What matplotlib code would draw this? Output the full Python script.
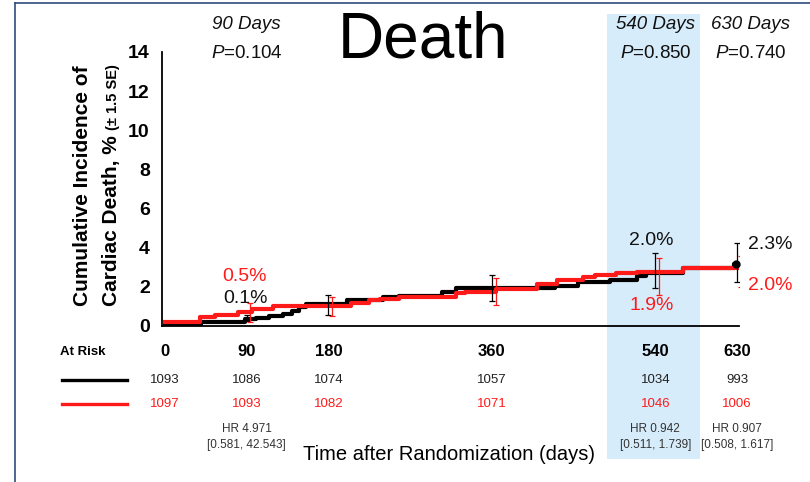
import matplotlib
matplotlib.use('Agg')
import matplotlib.pyplot as plt
from matplotlib.patches import Rectangle
from matplotlib.lines import Line2D
import matplotlib.transforms as mtransforms

plt.rcParams['font.family'] = ['Liberation Sans', 'DejaVu Sans']
plt.rcParams['mathtext.fontset'] = 'custom'
plt.rcParams['mathtext.rm'] = 'Liberation Sans'
plt.rcParams['mathtext.it'] = 'Liberation Sans:italic'

RED = '#ff1a1a'

# step curves (days, cumulative incidence %)
black_days = [0, 40, 88, 100, 115, 130, 140, 148, 155, 200, 240, 258, 305, 320, 430, 455, 490, 520, 530, 570, 627, 630]
black_inc = [0.1, 0.2, 0.38, 0.42, 0.5, 0.63, 0.78, 0.95, 1.1, 1.33, 1.47, 1.55, 1.75, 1.94, 2.05, 2.25, 2.35, 2.55, 2.72, 2.95, 3.15, 3.15]
red_days = [0, 38, 55, 80, 96, 119, 205, 225, 237, 258, 320, 330, 365, 410, 432, 460, 473, 497, 520, 570, 630]
red_inc = [0.22, 0.46, 0.56, 0.73, 0.87, 1.04, 1.16, 1.33, 1.38, 1.48, 1.69, 1.76, 1.9, 2.13, 2.35, 2.49, 2.6, 2.69, 2.77, 2.98, 2.98]

# error bars at landmark days
err_days = [90, 180, 360, 540, 630]
black_mid = [0.4, 1.07, 1.94, 2.82, 3.24]
black_se = [0.17, 0.5, 0.68, 0.9, 1.0]
red_mid = [0.7, 1.0, 1.76, 2.52, 2.8]
red_se = [0.5, 0.5, 0.68, 0.94, 0.8]

# at-risk table
risk_days = [0, 90, 180, 360, 540, 630]
risk_black = ['1093', '1086', '1074', '1057', '1034', '993']
risk_red = ['1097', '1093', '1082', '1071', '1046', '1006']
hr_days = [90, 540, 630]
hr_text = ['HR 4.971\n[0.581, 42.543]', 'HR 0.942\n[0.511, 1.739]', 'HR 0.907\n[0.508, 1.617]']

# landmark labels
land_days = [90, 540, 645]
land_title = ['90 Days', '540 Days', '630 Days']
land_p = ['0.104', '0.850', '0.740']

W, H = 810, 482
fig = plt.figure(figsize=(8.1, 4.82), dpi=100)

def fx(px):
    return px / W

def fy(py):
    return 1 - py / H

# figure border (left + top)
fig.add_artist(Line2D([fx(15), fx(15)], [fy(3), 0], color='#2e4d7e', lw=1.2))
fig.add_artist(Line2D([fx(15), 1], [fy(3), fy(3)], color='#2e4d7e', lw=1.2))

# highlighted 540-day column, behind everything
fig.patches.append(Rectangle((fx(607), fy(459)), fx(700) - fx(607), fy(14) - fy(459),
                             transform=fig.transFigure, facecolor='#d6ecfa', edgecolor='none', zorder=-5))

ax = fig.add_axes([162.3 / W, 1 - 326 / H, 576.6 / W, 274 / H])
ax.patch.set_alpha(0)
ax.set_xlim(-3, 632)
ax.set_ylim(0, 14)
for s in ['top', 'right']:
    ax.spines[s].set_visible(False)
for s in ['left', 'bottom']:
    ax.spines[s].set_linewidth(1.3)
ax.set_yticks(range(0, 15, 2))
ax.set_xticks([])
ax.tick_params(axis='y', length=0, pad=9)
for t in ax.get_yticklabels():
    t.set_fontsize(14)
    t.set_fontweight('bold')

ax.step(black_days, black_inc, where='post', color='black', lw=3, zorder=3)
ax.step(red_days, red_inc, where='post', color=RED, lw=3, zorder=4)
ax.errorbar(err_days, black_mid, yerr=black_se, fmt='none', ecolor='black',
            elinewidth=0.9, capsize=2.5, capthick=0.9, zorder=5)
ax.errorbar([d + 4 for d in err_days], red_mid, yerr=red_se, fmt='none', ecolor=RED,
            elinewidth=0.9, capsize=2.5, capthick=0.9, zorder=5)
ax.plot([629], [3.15], 'o', color='black', ms=5, zorder=6, clip_on=False)

# percentage labels
ax.text(88, 2.52, '0.5%', color=RED, fontsize=14, ha='center', va='center')
ax.text(89, 1.43, '0.1%', color='#111111', fontsize=14, ha='center', va='center')
ax.text(536, 4.37, '2.0%', color='#111111', fontsize=14, ha='center', va='center')
ax.text(536, 1.05, '1.9%', color=RED, fontsize=14, ha='center', va='center')
ax.text(667, 4.14, '2.3%', color='#111111', fontsize=14, ha='center', va='center')
ax.text(667, 2.07, '2.0%', color=RED, fontsize=14, ha='center', va='center')

# landmark titles
for d, t, p in zip(land_days, land_title, land_p):
    ax.text(d, 15.38, t, style='italic', fontsize=13.5, ha='center', va='center', color='#111111')
    ax.text(d, 13.9, r'$\mathit{P}$=' + p, fontsize=13.5, ha='center', va='center', color='#111111')

fig.text(fx(423), fy(40), 'Death', fontsize=46, ha='center', va='center')

# y label
fig.text(fx(88), fy(306), 'Cumulative Incidence of', rotation=90, rotation_mode='anchor',
         ha='left', va='baseline', fontsize=15, fontweight='bold')
t2 = fig.text(fx(117), fy(306), 'Cardiac Death, %', rotation=90, rotation_mode='anchor',
              ha='left', va='baseline', fontsize=15, fontweight='bold')
fig.canvas.draw()
bb = t2.get_window_extent()
fig.text(fx(117), (bb.y1 + 5) / H, '(± 1.5 SE)', rotation=90, rotation_mode='anchor',
         ha='left', va='baseline', fontsize=10.5, fontweight='bold')

# at-risk table
tr = mtransforms.blended_transform_factory(ax.transData, fig.transFigure)
fig.text(fx(83), fy(352), 'At Risk', fontsize=9.5, fontweight='bold', ha='center', va='center')
fig.add_artist(Line2D([fx(62), fx(127)], [fy(380), fy(380)], color='black', lw=2.4))
fig.add_artist(Line2D([fx(62), fx(127)], [fy(404), fy(404)], color=RED, lw=2.4))
for d, b, r in zip(risk_days, risk_black, risk_red):
    ax.text(d, fy(352), str(d), transform=tr, fontsize=12, fontweight='bold', ha='center', va='center')
    ax.text(d, fy(380), b, transform=tr, fontsize=9.5, color='#222222', ha='center', va='center')
    ax.text(d, fy(404), r, transform=tr, fontsize=9.5, color=RED, ha='center', va='center')
for d, t in zip(hr_days, hr_text):
    ax.text(d, fy(437), t, transform=tr, fontsize=8.5, color='#333333', ha='center', va='center',
            linespacing=1.55)

fig.text(fx(449), fy(455), 'Time after Randomization (days)', fontsize=14.5, ha='center', va='center')

fig.savefig('out.png', dpi=100)
